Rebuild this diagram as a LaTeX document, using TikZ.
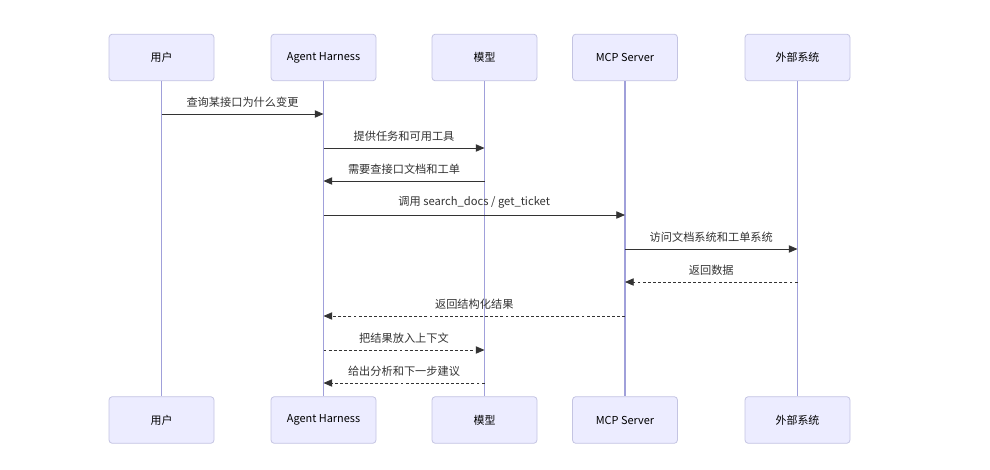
\documentclass[tikz,border=0pt]{standalone}
\usepackage{fontspec}
\setmainfont{Noto Sans CJK SC}
\usepackage{xcolor}
\usetikzlibrary{positioning, calc, arrows.meta}

\definecolor{actorfill}{HTML}{ECECFF}
\definecolor{actordraw}{HTML}{C4C4E2}
\definecolor{lifecol}{HTML}{A0A0DA}
\definecolor{msgcol}{HTML}{333333}

\tikzset{
    actor/.style={draw=actordraw, fill=actorfill, rounded corners=2.5pt,
        minimum width=78.75pt, minimum height=35pt, font=\fontsize{8.2pt}{10pt}\selectfont,
        line width=0.6pt},
    lifeline/.style={draw=lifecol, line width=1.1pt},
    msg/.style={draw=msgcol, line width=0.6pt, -{Triangle[length=6.5pt, width=5.5pt]}},
    reply/.style={msg, dash pattern=on 2.2pt off 1.6pt},
    msglabel/.style={midway, above=4.5pt, inner sep=0pt, text=msgcol,
        font=\fontsize{8.4pt}{10pt}\selectfont}
}

\begin{document}
\begin{tikzpicture}[x=0.75pt, y=-0.75pt]

    \useasboundingbox (0,0) rectangle (990,469);

    % --- Actors (top row) ---
    \node[actor] (user)    at (161.5,57.5) {用户};
    \node[actor] (harness) at (323.5,57.5) {Agent Harness};
    \node[actor] (model)   at (484.5,57.5) {模型};
    \node[actor] (mcp)     at (625,57.5)   {MCP Server};
    \node[actor] (ext)     at (797.5,57.5) {外部系统};

    % --- Actors (bottom row) ---
    \node[actor] (user b)    at (161.5,420) {用户};
    \node[actor] (harness b) at (323.5,420) {Agent Harness};
    \node[actor] (model b)   at (484.5,420) {模型};
    \node[actor] (mcp b)     at (625,420)   {MCP Server};
    \node[actor] (ext b)     at (797.5,420) {外部系统};

    % --- Lifelines ---
    \foreach \a in {user, harness, model, mcp, ext}
        \draw[lifeline] (\a.south) -- (\a\space b.north);

    % --- Message rows ---
    \foreach \n/\y in {1/114, 2/148, 3/181, 4/215, 5/249, 6/282, 7/316, 8/350, 9/383}
        \coordinate (m\n) at (0,\y);

    % --- Messages ---
    \draw[msg] (user |- m1) -- (harness |- m1) node[msglabel] {查询某接口为什么变更};
    \draw[msg] (harness |- m2) -- (model |- m2) node[msglabel] {提供任务和可用工具};
    \draw[msg] (model |- m3) -- (harness |- m3) node[msglabel] {需要查接口文档和工单};
    \draw[msg] (harness |- m4) -- (mcp |- m4) node[msglabel] {调用 search\_docs / get\_ticket};
    \draw[msg] (mcp |- m5) -- (ext |- m5) node[msglabel] {访问文档系统和工单系统};
    \draw[reply] (ext |- m6) -- (mcp |- m6) node[msglabel] {返回数据};
    \draw[reply] (mcp |- m7) -- (harness |- m7) node[msglabel] {返回结构化结果};
    \draw[reply] (harness |- m8) -- (model |- m8) node[msglabel] {把结果放入上下文};
    \draw[reply] (model |- m9) -- (harness |- m9) node[msglabel] {给出分析和下一步建议};

\end{tikzpicture}
\end{document}
